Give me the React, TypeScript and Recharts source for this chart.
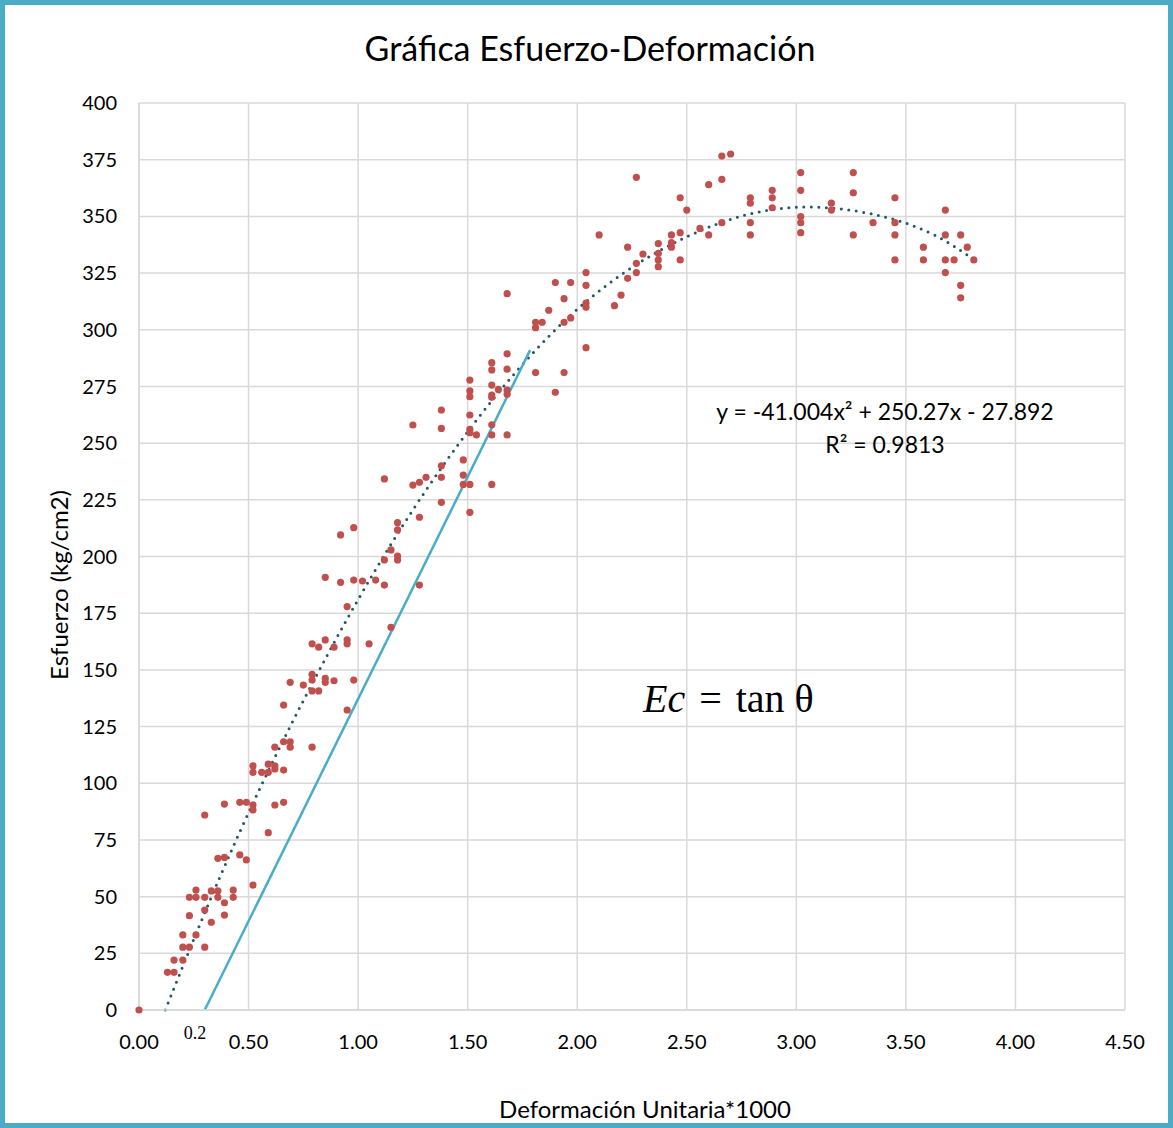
import { ComposedChart, Scatter, Line, XAxis, YAxis, CartesianGrid } from "recharts"

// Deformación unitaria*1000 (x) y esfuerzo kg/cm2 (y)
const deformacion = [
  0, 0.30, 0.39, 0.46, 0.49, 0.52, 0.52, 0.62, 0.66, 0.59, 0.36, 0.39, 0.46, 0.49,
  0.26, 0.33, 0.36, 0.43, 0.23, 0.26, 0.30, 0.36, 0.43, 0.39, 0.30, 0.23, 0.39, 0.33,
  0.52, 0.20, 0.26, 0.20, 0.23, 0.30, 0.16, 0.20, 0.13, 0.16,
  0.85, 0.92, 0.98, 1.02, 1.08, 0.95, 0.79, 0.82, 0.85, 0.89, 0.95, 0.95, 1.05, 0.79,
  0.79, 0.85, 0.85, 0.89, 0.98, 0.69, 0.75, 0.79, 0.82, 0.66, 0.95, 0.66, 0.69, 0.62,
  0.69, 0.79, 0.52, 0.59, 0.62, 0.52, 0.56, 0.59, 0.62, 0.66,
  1.38, 1.51, 1.25, 1.38, 1.51, 1.51, 1.54, 1.48, 1.38, 1.31, 1.28, 1.25, 1.38, 1.48,
  1.48, 1.51, 1.12, 1.38, 1.51, 1.28, 1.18, 1.18, 0.98, 0.92, 1.15, 1.18, 1.18, 1.12,
  1.12, 1.28, 1.15,
  2.04, 1.90, 1.97, 2.04, 1.68, 1.94, 2.04, 2.04, 1.87, 1.97, 1.94, 1.81, 1.84, 1.81,
  2.04, 1.68, 1.61, 1.61, 1.68, 1.81, 1.94, 1.51, 1.61, 1.64, 1.68, 1.51, 1.51, 1.61,
  1.61, 1.68, 1.90, 1.61, 1.61, 1.68, 1.61,
  2.66, 2.70, 2.27, 2.66, 2.60, 2.47, 2.50, 2.79, 2.79, 2.89, 2.89, 2.89, 2.66, 2.79,
  2.79, 2.60, 2.56, 2.47, 2.43, 2.10, 2.43, 2.43, 2.37, 2.37, 2.37, 2.37, 2.47, 2.30,
  2.23, 2.27, 2.27, 2.23, 2.20, 2.17,
  3.02, 3.02, 3.02, 3.02, 3.02, 3.16, 3.16, 3.26, 3.26, 3.26, 3.35, 3.45, 3.45, 3.45,
  3.45, 3.58, 3.58, 3.68, 3.68, 3.68, 3.68, 3.72, 3.75, 3.78, 3.81, 3.75, 3.75,
]

const esfuerzo = [
  0, 86, 90.8, 91.6, 91.6, 90.4, 88.2, 90.4, 91.6, 78.2, 66.9, 67.3, 68.4, 66.2,
  52.9, 52.5, 52.5, 52.9, 49.7, 49.7, 49.7, 49.7, 49.7, 47.3, 44.1, 41.6, 41.9, 38.7,
  55.1, 33.1, 33.1, 27.7, 27.7, 27.7, 22, 22, 16.6, 16.6,
  190.8, 188.6, 189.6, 189.2, 189.6, 177.9, 161.5, 160, 163.2, 160, 163.2, 161.5, 161.5, 148,
  145.5, 146.3, 144.5, 145.2, 145.5, 144.5, 143.3, 140.7, 140.7, 134.5, 132.3, 118.3, 118.3, 115.9,
  115.9, 115.9, 107.7, 108.4, 107.7, 104.8, 104.8, 104.8, 106.3, 105.8,
  264.6, 262.4, 258, 256.5, 256.1, 254.6, 253.6, 242.6, 240, 234.9, 232.7, 231.5, 234.9, 235.9,
  231.8, 231.8, 234.2, 223.9, 219.5, 217.3, 214.9, 211.7, 212.7, 209.5, 202.9, 200.2, 198.5, 198.5,
  187.4, 187.4, 168.8,
  325.2, 320.8, 320.8, 319.6, 315.9, 313.7, 311.7, 309.9, 308.6, 305.2, 303.3, 303.3, 303.3, 300.9,
  292.1, 289.4, 285.5, 282.3, 282.6, 281.1, 281.1, 277.8, 275.6, 273.7, 273.4, 273, 270.5, 271.2,
  270.2, 271.5, 272.4, 258.1, 253.6, 253.6, 231.8,
  376.6, 377.5, 367.2, 366.3, 364, 358.2, 352.8, 358.2, 355.8, 361.5, 358.2, 353.8, 347.2, 347.2,
  341.8, 341.8, 344.7, 342.8, 341.8, 341.8, 338.4, 336.4, 338, 333.7, 330.8, 327.8, 330.8, 333.4,
  336.4, 329.3, 325.2, 322.7, 315.3, 310.6,
  369.3, 361.5, 349.9, 347.2, 342.8, 355.8, 352.8, 369.3, 360.4, 341.8, 347.2, 358.2, 347.2, 341.8,
  330.8, 336.4, 330.8, 352.8, 341.8, 330.8, 325.2, 330.8, 341.8, 336.4, 330.8, 319.6, 314.1,
]

// línea de tendencia polinómica (puntos leídos sobre la curva punteada)
const tendenciaX = [0.12, 0.5, 1.0, 1.5, 2.0, 2.5, 3.0, 3.5, 3.81]
const tendenciaY = [0, 87, 181, 255, 309, 341, 354, 347, 331]

// recta tangente inicial (Ec)
const tangenteX = [0.3, 1.785]
const tangenteY = [0, 291]

const xTicks = [0, 0.5, 1, 1.5, 2, 2.5, 3, 3.5, 4, 4.5]
const yTicks = [0, 25, 50, 75, 100, 125, 150, 175, 200, 225, 250, 275, 300, 325, 350, 375, 400]

const puntos = deformacion.map((x, i) => ({ x, y: esfuerzo[i] }))
const tendencia = tendenciaX.map((x, i) => ({ x, y: tendenciaY[i] }))
const tangente = tangenteX.map((x, i) => ({ x, y: tangenteY[i] }))

const font = "Lato, 'Open Sans', sans-serif"

export default function App() {
  return (
    <div style={{ position: "absolute", left: 0, top: 0, width: 1173, height: 1128, background: "#fff" }}>
      <ComposedChart
        width={1173}
        height={1128}
        margin={{ top: 103, right: 48, bottom: 70, left: 0 }}
      >
        <CartesianGrid stroke="#D9D9D9" strokeWidth={1.5} />
        <XAxis
          type="number"
          dataKey="x"
          domain={[0, 4.5]}
          ticks={xTicks}
          interval={0}
          tickFormatter={(v) => v.toFixed(2)}
          tick={{ fill: "#000", fontSize: 20, fontFamily: font }}
          tickLine={false}
          tickSize={0}
          tickMargin={25}
          axisLine={{ stroke: "#D9D9D9", strokeWidth: 1.5 }}
          height={48}
        />
        <YAxis
          type="number"
          dataKey="y"
          domain={[0, 400]}
          ticks={yTicks}
          interval={0}
          tick={{ fill: "#000", fontSize: 20, fontFamily: font }}
          tickLine={false}
          tickSize={0}
          tickMargin={22}
          axisLine={{ stroke: "#D9D9D9", strokeWidth: 1.5 }}
          width={139}
        />
        <Scatter
          data={puntos}
          dataKey="y"
          isAnimationActive={false}
          shape={(p: any) => <circle cx={p.cx} cy={p.cy} r={3.6} fill="#C0504D" />}
        />
        <Line
          data={tendencia}
          dataKey="y"
          type="natural"
          stroke="#215868"
          strokeWidth={3}
          strokeDasharray="0 7.5"
          strokeLinecap="round"
          dot={false}
          activeDot={false}
          isAnimationActive={false}
        />
        <Line
          data={tangente}
          dataKey="y"
          type="linear"
          stroke="#4BACC6"
          strokeWidth={2.5}
          dot={false}
          activeDot={false}
          isAnimationActive={false}
        />
        <text x={590} y={61} textAnchor="middle" fontSize={34} fontFamily={font} fill="#000">
          Gráfica Esfuerzo-Deformación
        </text>
        <text
          x={58}
          y={585}
          transform="rotate(-90 58 585)"
          textAnchor="middle"
          dominantBaseline="central"
          fontSize={24}
          fontFamily={font}
          fill="#000"
        >
          Esfuerzo (kg/cm2)
        </text>
        <text x={645} y={1118} textAnchor="middle" fontSize={24} fontFamily={font} fill="#000">
          Deformación Unitaria*1000
        </text>
        <text x={195} y={1039} textAnchor="middle" fontSize={18} fontFamily="'Liberation Serif', serif" fill="#000">
          0.2
        </text>
        <text x={885} y={420} textAnchor="middle" fontSize={23} fontFamily={font} fill="#000">
          y = -41.004x² + 250.27x - 27.892
        </text>
        <text x={885} y={453} textAnchor="middle" fontSize={23} fontFamily={font} fill="#000">
          R² = 0.9813
        </text>
        <text x={643} y={712} fontSize={40} fontFamily="'Liberation Serif', 'DejaVu Serif', serif" fill="#000">
          <tspan fontStyle="italic">Ec</tspan>
          <tspan dx={4}> = </tspan>
          <tspan dx={4}>tan θ</tspan>
        </text>
      </ComposedChart>
      <div
        style={{
          position: "absolute",
          left: 0,
          top: 0,
          width: 1173,
          height: 1128,
          boxSizing: "border-box",
          border: "5px solid #4BACC6",
          pointerEvents: "none",
        }}
      />
    </div>
  )
}
